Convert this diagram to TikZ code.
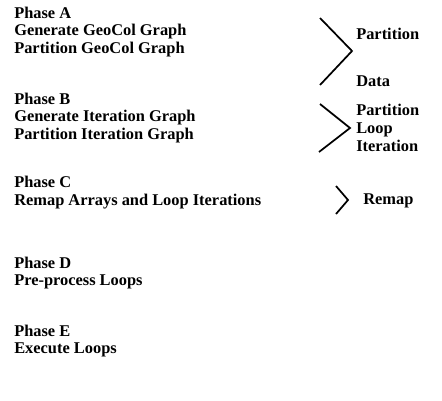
\documentclass[tikz,border=0pt]{standalone}
\usepackage{fontspec}
\setmainfont{Liberation Serif}
\usetikzlibrary{positioning}

\begin{document}
\begin{tikzpicture}[x=0.75pt, y=-0.75pt, font=\fontsize{12.3}{13.4}\selectfont\bfseries,
  phase/.style={anchor=west, align=left, inner sep=0pt},
  label/.style={anchor=west, align=left, inner sep=0pt},
  brace/.style={line width=1.3pt, line join=miter}]
\useasboundingbox (0,0) rectangle (442,400);
% phases on the left
\node[phase] (pa) at (14,32) {Phase A\\Generate GeoCol Graph\\Partition GeoCol Graph};
\node[phase] (pb) at (14,118) {Phase B\\Generate Iteration Graph\\Partition Iteration Graph};
\node[phase] (pc) at (14,193) {Phase C\\Remap Arrays and Loop Iterations};
\node[phase] (pd) at (14,273) {Phase D\\Pre-process Loops};
\node[phase] (pe) at (14,341) {Phase E\\Execute Loops};
% brackets
\coordinate (a1) at (320,18); \coordinate (a2) at (352,51); \coordinate (a3) at (320,85);
\coordinate (b1) at (320,104); \coordinate (b2) at (350,128); \coordinate (b3) at (319,152);
\coordinate (c1) at (336,186); \coordinate (c2) at (348,200); \coordinate (c3) at (336,214);
\draw[brace] (a1) -- (a2) -- (a3);
\draw[brace] (b1) -- (b2) -- (b3);
\draw[brace] (c1) -- (c2) -- (c3);
% labels on the right
\node[label] (la) at (356,34) {Partition};
\node[label] (ld) at (356,81) {Data};
\node[label] (lb) at (356,128) {Partition\\Loop\\Iteration};
\node[label] (lc) at (363,201) {Remap};
\end{tikzpicture}
\end{document}
